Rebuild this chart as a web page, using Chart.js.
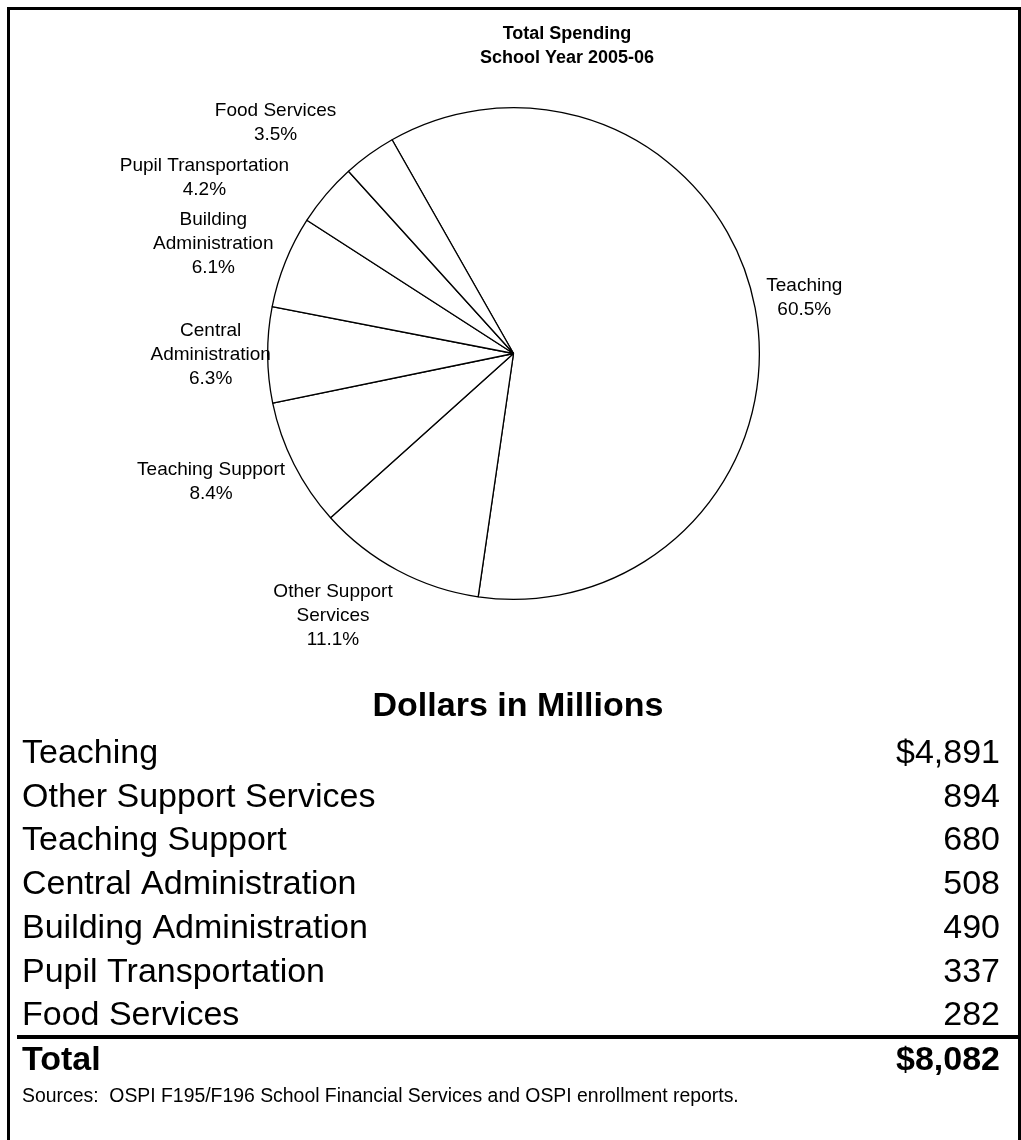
<!DOCTYPE html>
<html>
<head>
<meta charset="utf-8">
<title>Total Spending School Year 2005-06</title>
<script src="https://cdn.jsdelivr.net/npm/chart.js@4/dist/chart.umd.min.js"></script>
<style>
  html, body { margin: 0; padding: 0; background: #fff; }
  #wrap { width: 1021px; height: 1140px; }
</style>
</head>
<body>
<div id="wrap"><canvas id="spending" width="1021" height="1140"></canvas></div>
<script>
// data
const categories = ["Teaching", "Other Support Services", "Teaching Support", "Central Administration",
    "Building Administration", "Pupil Transportation", "Food Services"];
const dollars = [4891, 894, 680, 508, 490, 337, 282];   // $ millions
const pieLabelLines = [["Teaching"], ["Other Support", "Services"], ["Teaching Support"],
    ["Central", "Administration"], ["Building", "Administration"], ["Pupil Transportation"], ["Food Services"]];
const titleLines = ["Total Spending", "School Year 2005-06"];
const tableHeading = "Dollars in Millions";
const totalLabel = "Total";
const sourceNote = "Sources:  OSPI F195/F196 School Financial Services and OSPI enrollment reports.";

// small pushes so the slice labels land where Excel's "best fit" put them
const labelNudge = [[2, -3.7], [-31.5, 5], [-8, 2.4], [13.2, 0], [-7, -0.5], [-49.5, 5.7], [-52.4, -3.6]];

const FONT = "'Liberation Sans', Arial, sans-serif";
const total = dollars.reduce((a, b) => a + b, 0);
const fmt = n => String(n).replace(/\B(?=(\d{3})+(?!\d))/g, ",");

// white page + the black frame round it
const pageFrame = {
    id: "pageFrame",
    beforeDraw(chart) {
        const ctx = chart.ctx;
        ctx.save();
        ctx.fillStyle = "#fff";
        ctx.fillRect(0, 0, chart.width, chart.height);
        ctx.strokeStyle = "#000";
        ctx.lineWidth = 3;
        ctx.beginPath();
        ctx.moveTo(8.5, chart.height);
        ctx.lineTo(8.5, 8.5);
        ctx.lineTo(1019.5, 8.5);
        ctx.lineTo(1019.5, chart.height);
        ctx.stroke();
        ctx.restore();
    }
};

// name + percent outside each slice
const sliceLabels = {
    id: "sliceLabels",
    afterDatasetsDraw(chart) {
        const ctx = chart.ctx;
        const meta = chart.getDatasetMeta(0);
        const lh = 24;
        ctx.save();
        ctx.font = "19px " + FONT;
        ctx.fillStyle = "#000";
        ctx.textAlign = "center";
        ctx.textBaseline = "middle";
        meta.data.forEach((arc, i) => {
            const p = arc.getProps(["x", "y", "startAngle", "endAngle", "outerRadius"], true);
            const mid = (p.startAngle + p.endAngle) / 2;
            const lines = pieLabelLines[i].concat([(dollars[i] / total * 100).toFixed(1) + "%"]);
            const w = Math.max(...lines.map(t => ctx.measureText(t).width));
            const h = lines.length * lh;
            const r = p.outerRadius + 10;
            const ax = p.x + Math.cos(mid) * r;
            const ay = p.y + Math.sin(mid) * r;
            const cx = ax + Math.cos(mid) * w / 2 + labelNudge[i][0];
            const cy = ay + Math.sin(mid) * h / 2 + labelNudge[i][1];
            lines.forEach((t, j) => ctx.fillText(t, cx, cy - (lines.length - 1) * lh / 2 + j * lh));
        });
        ctx.restore();
    }
};

// title on top, dollar table + source below the pie
const spendTable = {
    id: "spendTable",
    afterDraw(chart) {
        const ctx = chart.ctx;
        ctx.save();
        ctx.fillStyle = "#000";
        ctx.textBaseline = "alphabetic";

        ctx.font = "bold 18px " + FONT;
        ctx.textAlign = "center";
        titleLines.forEach((t, i) => ctx.fillText(t, 567, 39 + i * 24));

        ctx.font = "bold 34px " + FONT;
        ctx.fillText(tableHeading, 518, 716);

        const rowH = 43.7;
        ctx.font = "34px " + FONT;
        categories.forEach((c, i) => {
            const y = 763 + i * rowH;
            ctx.textAlign = "left";
            ctx.fillText(c, 22, y);
            ctx.textAlign = "right";
            ctx.fillText((i === 0 ? "$" : "") + fmt(dollars[i]), 1000, y);
        });

        ctx.fillRect(17, 1035, 1004, 4);

        ctx.font = "bold 34px " + FONT;
        ctx.textAlign = "left";
        ctx.fillText(totalLabel, 22, 1070);
        ctx.textAlign = "right";
        ctx.fillText("$" + fmt(total), 1000, 1070);

        ctx.font = "19.4px " + FONT;
        ctx.textAlign = "left";
        ctx.fillText(sourceNote, 22, 1102);
        ctx.restore();
    }
};

const config = {
    type: "pie",
    data: {
        labels: categories,
        datasets: [{
            data: dollars,
            backgroundColor: "#fff",
            borderColor: "#000",
            borderWidth: 1.3,
        }],
    },
    options: {
        responsive: false,
        animation: false,
        devicePixelRatio: 1,
        events: [],
        rotation: -29.6,
        layout: { padding: { left: 267, right: 261, top: 107, bottom: 540 } },
        plugins: {
            legend: { display: false },
            title: { display: false },
            tooltip: { enabled: false },
        },
    },
    plugins: [pageFrame, sliceLabels, spendTable],
};

const myChart = new Chart(document.getElementById("spending"), config);
</script>
</body>
</html>
